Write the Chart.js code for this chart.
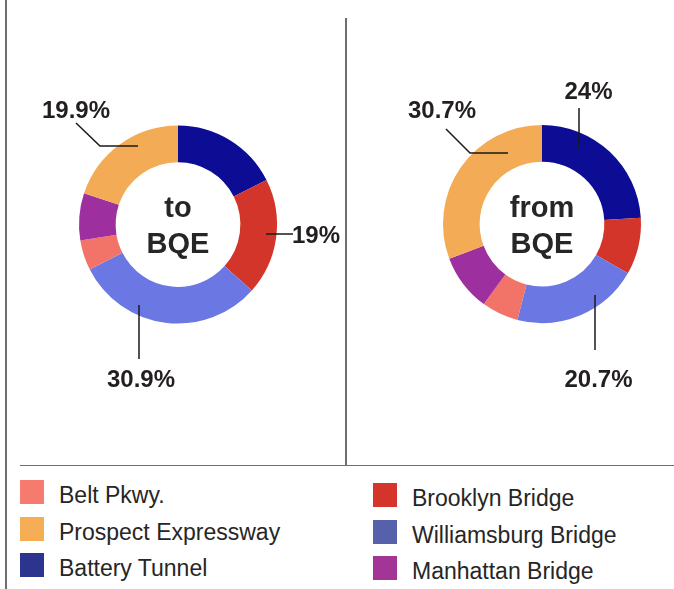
<!DOCTYPE html>
<html>
<head>
<meta charset="utf-8" />
<script src="https://cdn.jsdelivr.net/npm/chart.js@4.4.1/dist/chart.umd.min.js"></script>
<style>
  body { margin:0; width:674px; height:589px; background:#fff; position:relative; overflow:hidden;
         font-family:"Liberation Sans", Arial, sans-serif; }
  .rule { position:absolute; background:#6e6e6e; }
  canvas { position:absolute; }
  .sw { position:absolute; width:24px; height:24px; }
  .lt { position:absolute; font-size:23px; line-height:24px; color:#262626; white-space:nowrap; }
</style>
</head>
<body>
<div class="rule" style="left:5px; top:0; width:1.5px; height:589px;"></div>
<div class="rule" style="left:345px; top:18px; width:1.5px; height:447px;"></div>
<div class="rule" style="left:20px; top:465px; width:654px; height:1.2px;"></div>

<canvas id="toChart" width="340" height="349" style="left:8px; top:50px;"></canvas>
<canvas id="fromChart" width="300" height="348" style="left:392px; top:50px;"></canvas>

<div id="legend"></div>

<script>
// segment order, clockwise from 12 o'clock
const routes = ['Battery Tunnel', 'Brooklyn Bridge', 'Williamsburg Bridge', 'Belt Pkwy.', 'Manhattan Bridge', 'Prospect Expressway'];
const toBQE = [17.6, 19, 30.9, 4.9, 7.7, 19.9];
const fromBQE = [24, 9.3, 20.7, 6.0, 9.3, 30.7];
const arcColors = ['#0c0c94', '#d4352a', '#6b77e2', '#f27468', '#9e2f9f', '#f4ab56'];

// legend, two columns of three
const legendCols = [
  ['Belt Pkwy.', 'Prospect Expressway', 'Battery Tunnel'],
  ['Brooklyn Bridge', 'Williamsburg Bridge', 'Manhattan Bridge']
];
const swatchColors = {
  'Belt Pkwy.': '#f57b6f', 'Prospect Expressway': '#f5ae55', 'Battery Tunnel': '#2b3590',
  'Brooklyn Bridge': '#d3352b', 'Williamsburg Bridge': '#5660ab', 'Manhattan Bridge': '#a23595'
};

const LABEL_FONT = 'bold 24px "Liberation Sans", Arial, sans-serif';
const CENTRE_FONT = 'bold 29px "Liberation Sans", Arial, sans-serif';

// draws the words in the hole plus the value call-outs with leader lines
function callouts(centre, items) {
  return {
    id: 'callouts',
    afterDraw(chart) {
      const ctx = chart.ctx;
      const arc = chart.getDatasetMeta(0).data[0];
      const cx = arc.x, cy = arc.y;
      const data = chart.data.datasets[0].data;
      ctx.save();
      ctx.fillStyle = '#262626';
      ctx.font = CENTRE_FONT;
      ctx.textAlign = 'center';
      ctx.textBaseline = 'alphabetic';
      centre.forEach(([t, dy]) => ctx.fillText(t, cx, cy + dy));

      items.forEach(it => {
        ctx.beginPath();
        it.path.forEach(([x, y], k) => k ? ctx.lineTo(cx + x, cy + y) : ctx.moveTo(cx + x, cy + y));
        ctx.strokeStyle = '#1a1a1a';
        ctx.lineWidth = 1.5;
        ctx.stroke();
        ctx.font = LABEL_FONT;
        ctx.fillStyle = '#231f20';
        ctx.textAlign = it.align || 'center';
        ctx.fillText(data[it.index] + '%', cx + it.tx, cy + it.ty);
      });
      ctx.restore();
    }
  };
}

function ring(id, values, centre, items) {
  return new Chart(document.getElementById(id), {
    type: 'doughnut',
    data: {
      labels: routes,
      datasets: [{ data: values, backgroundColor: arcColors, borderWidth: 0 }]
    },
    options: {
      responsive: false,
      animation: false,
      radius: 99,
      cutout: '63%',
      layout: { padding: 0 },
      plugins: { legend: { display: false }, tooltip: { enabled: false } }
    },
    plugins: [callouts(centre, items)]
  });
}

ring('toChart', toBQE, [['to', -7.5], ['BQE', 28.5]], [
  { index: 5, path: [[-102, -101.5], [-78, -78.5], [-40, -78.5]], tx: -102, ty: -106.5 },
  { index: 1, path: [[88, 9.5], [115, 9.5]], tx: 114, ty: 18.5, align: 'left' },
  { index: 2, path: [[-39, 80.5], [-39, 134.5]], tx: -37, ty: 162.5 }
]);

ring('fromChart', fromBQE, [['from', -7.5], ['BQE', 29]], [
  { index: 5, path: [[-96, -95], [-72, -71], [-34, -71]], tx: -100, ty: -106 },
  { index: 0, path: [[37, -116], [37, -75]], tx: 46.5, ty: -125 },
  { index: 2, path: [[53, 71], [53, 126]], tx: 56.5, ty: 163 }
]);

// legend built from the same names
const legend = document.getElementById('legend');
const colLeft = [20, 373];
const colTop = [480, 483];
legendCols.forEach((col, c) => {
  col.forEach((name, r) => {
    const top = colTop[c] + r * 36.5;
    const sw = document.createElement('div');
    sw.className = 'sw';
    sw.style.left = colLeft[c] + 'px';
    sw.style.top = top + 'px';
    sw.style.background = swatchColors[name];
    const lt = document.createElement('div');
    lt.className = 'lt';
    lt.style.left = (colLeft[c] + 39) + 'px';
    lt.style.top = (top + 3) + 'px';
    lt.textContent = name;
    legend.appendChild(sw);
    legend.appendChild(lt);
  });
});
</script>
</body>
</html>
